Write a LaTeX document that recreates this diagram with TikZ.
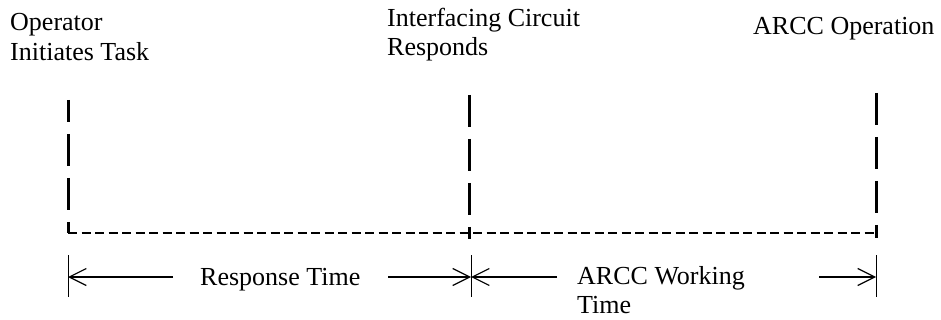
\documentclass[tikz,border=0pt]{standalone}
\usepackage{fontspec}
\setmainfont{Liberation Serif}
\usetikzlibrary{arrows.meta}
\begin{document}
\begin{tikzpicture}[x=1pt,y=-1pt,
  lbl/.style={anchor=base west, inner sep=0pt, font=\fontsize{26}{30}\selectfont},
  marker/.style={line width=3pt, dash pattern=on 32pt off 12pt},
  timeline/.style={line width=2.5pt, dash pattern=on 9pt off 4.5pt},
  tickline/.style={line width=1pt},
  dim/.style={line width=1.2pt, -{Straight Barb[length=17pt,width=17pt]}}]
\useasboundingbox (0,0) rectangle (941,320);

% event labels
\node[lbl] (op1) at (10,31) {Operator};
\node[lbl] (op2) at (10,61) {Initiates Task};
\node[lbl] (ic1) at (387,27) {Interfacing Circuit};
\node[lbl] (ic2) at (387,56) {Responds};
\node[lbl] (ao)  at (753,35) {ARCC Operation};

% event markers and the time axis
\coordinate (aT) at (68,100);  \coordinate (aB) at (68,233);
\coordinate (bT) at (469,95);  \coordinate (bB) at (469,239);
\coordinate (cT) at (876,93);  \coordinate (cB) at (876,238);
\coordinate (axisEnd) at (876,233);
\draw[marker, dash phase=10pt] (aT) -- (aB);
\draw[marker] (bT) -- (bB);
\draw[marker] (cT) -- (cB);
\draw[timeline] (aB) -- (axisEnd);

% extension lines of the dimensions
\coordinate (tA1) at (68,255);  \coordinate (tA2) at (68,297);
\coordinate (tB1) at (471,255); \coordinate (tB2) at (471,297);
\coordinate (tC1) at (876,255); \coordinate (tC2) at (876,297);
\draw[tickline] (tA1) -- (tA2);
\draw[tickline] (tB1) -- (tB2);
\draw[tickline] (tC1) -- (tC2);

% dimension ends on the extension lines
\coordinate (dA) at (68,277);
\coordinate (dB) at (471,277);
\coordinate (dC) at (876,277);

% response time
\node[lbl] (rt) at (200,285) {Response Time};
\coordinate (rL) at (173,277);
\coordinate (rR) at (388,277);
\draw[dim] (rL) -- (dA);
\draw[dim] (rR) -- (dB);

% working time
\node[lbl] (wt1) at (577,284) {ARCC Working};
\node[lbl] (wt2) at (577,313) {Time};
\coordinate (wL) at (557,277);
\coordinate (wR) at (819,277);
\draw[dim] (wL) -- (dB);
\draw[dim] (wR) -- (dC);
\end{tikzpicture}
\end{document}
